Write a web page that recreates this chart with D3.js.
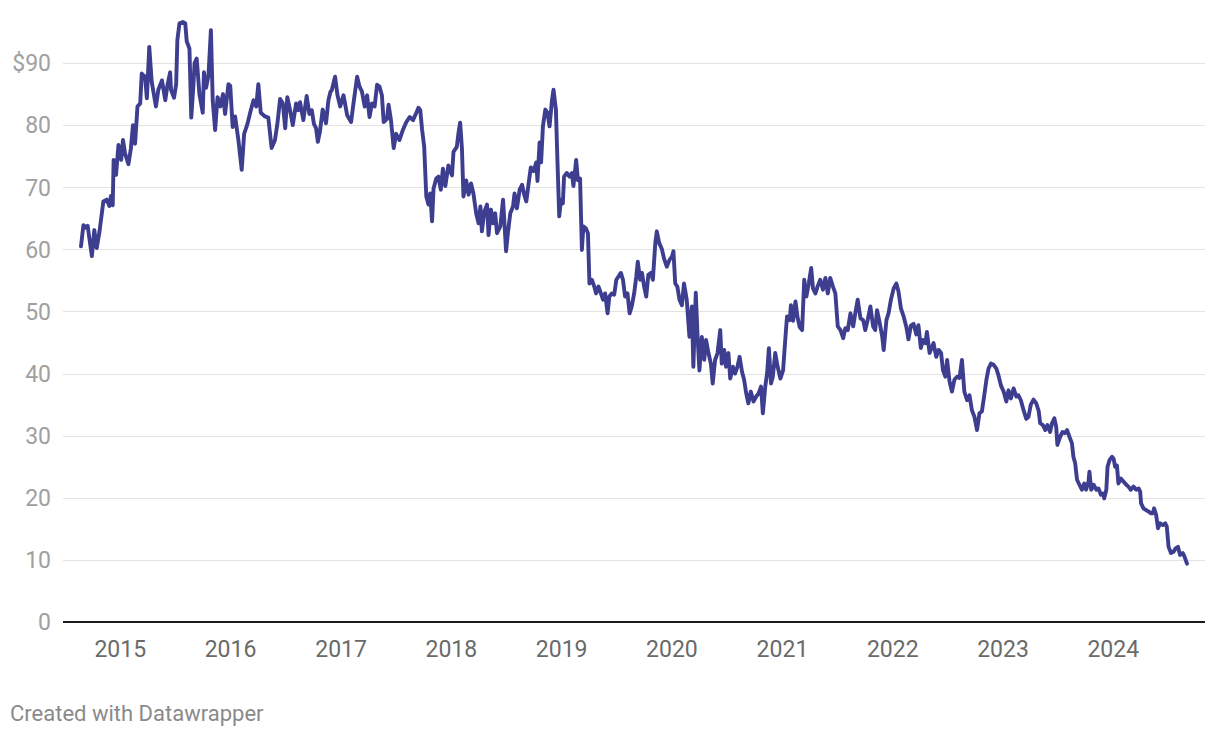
<!DOCTYPE html>
<html>
<head>
<meta charset="utf-8">
<script src="https://cdn.jsdelivr.net/npm/d3@7"></script>
<style>
  html, body { margin: 0; padding: 0; background: #fff; }
  svg { display: block; font-family: Roboto, "Noto Sans", sans-serif; }
</style>
</head>
<body>
<svg id="chart" width="1220" height="738"></svg>
<script>
// ---- DATA ----
const priceSeries = [
["2014-08-24",60.5],["2014-09-01",63.9],["2014-09-08",63.5],["2014-09-15",63.8],["2014-09-29",58.9],["2014-10-07",63.1],["2014-10-15",60.2],["2014-10-24",62.8],["2014-11-06",67.7],["2014-11-17",68.0],["2014-11-26",67.0],["2014-12-01",68.6],["2014-12-07",67.1],["2014-12-10",74.4],["2014-12-18",72.0],["2014-12-26",76.8],
["2015-01-04",74.4],["2015-01-10",77.6],["2015-01-17",75.4],["2015-01-28",73.7],["2015-02-05",76.2],["2015-02-12",80.0],["2015-02-19",77.0],["2015-02-27",83.0],["2015-03-08",83.5],["2015-03-13",88.3],["2015-03-24",87.8],["2015-03-30",84.3],["2015-04-07",92.6],["2015-04-15",87.0],["2015-04-29",83.0],["2015-05-07",85.7],["2015-05-19",87.2],["2015-05-30",84.0],["2015-06-06",86.4],["2015-06-15",88.5],["2015-06-18",85.7],["2015-06-28",84.4],["2015-07-05",86.6],["2015-07-09",93.7],["2015-07-16",96.4],["2015-07-27",96.6],["2015-08-04",96.4],["2015-08-09",93.5],["2015-08-18",92.3],["2015-08-24",81.2],["2015-08-31",86.3],["2015-09-04",90.0],["2015-09-11",90.7],["2015-09-20",85.0],["2015-10-01",82.0],["2015-10-05",88.5],["2015-10-12",86.0],["2015-10-20",88.0],["2015-10-28",95.3],["2015-11-03",84.0],["2015-11-11",79.2],["2015-11-19",84.5],["2015-11-28",83.0],["2015-12-07",85.0],["2015-12-14",81.8],["2015-12-25",86.6],["2015-12-31",86.3],
["2016-01-08",79.7],["2016-01-16",81.4],["2016-01-27",77.6],["2016-02-07",72.8],["2016-02-15",78.6],["2016-02-26",80.2],["2016-03-08",82.4],["2016-03-17",84.0],["2016-03-26",83.0],["2016-04-02",86.6],["2016-04-10",82.0],["2016-04-24",81.4],["2016-05-05",81.2],["2016-05-16",76.3],["2016-05-27",77.6],["2016-06-04",80.2],["2016-06-13",84.2],["2016-06-22",83.5],["2016-06-30",79.5],["2016-07-07",84.5],["2016-07-16",82.4],["2016-07-25",80.0],["2016-08-05",83.5],["2016-08-12",82.4],["2016-08-18",83.7],["2016-08-29",80.8],["2016-09-09",84.7],["2016-09-18",81.8],["2016-09-26",82.4],["2016-10-03",80.2],["2016-10-10",79.5],["2016-10-16",77.3],["2016-10-23",79.0],["2016-11-01",82.5],["2016-11-12",80.3],["2016-11-20",84.0],["2016-11-27",85.4],["2016-12-01",85.6],["2016-12-12",87.8],["2016-12-20",84.8],["2016-12-29",83.0],
["2017-01-09",84.8],["2017-01-21",81.6],["2017-02-03",80.5],["2017-02-11",83.5],["2017-02-23",87.8],["2017-03-03",86.2],["2017-03-11",85.4],["2017-03-20",83.0],["2017-03-28",84.8],["2017-04-05",81.3],["2017-04-13",83.5],["2017-04-22",83.0],["2017-04-30",86.5],["2017-05-08",86.2],["2017-05-16",84.8],["2017-05-22",80.5],["2017-06-02",81.0],["2017-06-07",83.3],["2017-06-15",80.8],["2017-06-24",76.3],["2017-07-02",78.6],["2017-07-13",77.6],["2017-07-25",79.3],["2017-08-05",80.5],["2017-08-16",81.3],["2017-08-27",80.8],["2017-09-07",82.0],["2017-09-14",82.8],["2017-09-20",82.4],["2017-09-26",79.3],["2017-10-03",76.5],["2017-10-10",68.5],["2017-10-17",67.2],["2017-10-23",69.0],["2017-10-29",64.5],["2017-11-03",69.8],["2017-11-12",71.4],["2017-11-19",71.7],["2017-11-27",69.6],["2017-12-04",73.0],["2017-12-12",70.2],["2017-12-22",73.5],
["2018-01-03",71.9],["2018-01-08",75.7],["2018-01-19",76.5],["2018-01-25",78.9],["2018-01-30",80.4],["2018-02-05",76.2],["2018-02-10",68.5],["2018-02-19",71.1],["2018-02-27",68.8],["2018-03-07",70.6],["2018-03-15",69.0],["2018-03-24",65.8],["2018-04-01",64.2],["2018-04-07",66.9],["2018-04-12",62.9],["2018-04-20",66.1],["2018-04-29",67.2],["2018-05-04",62.3],["2018-05-12",66.4],["2018-05-19",64.2],["2018-05-26",65.8],["2018-06-01",62.6],["2018-06-12",63.7],["2018-06-21",68.0],["2018-06-25",64.8],["2018-07-01",59.7],["2018-07-07",62.6],["2018-07-15",65.8],["2018-07-24",66.9],["2018-07-29",69.0],["2018-08-06",66.6],["2018-08-15",69.6],["2018-08-23",70.4],["2018-08-30",68.8],["2018-09-06",67.7],["2018-09-14",70.7],["2018-09-21",73.2],["2018-09-30",72.6],["2018-10-09",74.0],["2018-10-13",71.0],["2018-10-20",77.2],["2018-10-25",74.0],["2018-10-31",79.8],["2018-11-08",82.5],["2018-11-15",82.0],["2018-11-22",79.8],["2018-11-30",84.0],["2018-12-05",85.7],["2018-12-13",82.5],["2018-12-18",74.4],["2018-12-24",65.3],["2018-12-30",68.0],
["2019-01-05",67.4],["2019-01-09",71.7],["2019-01-18",72.3],["2019-01-27",71.7],["2019-02-04",72.3],["2019-02-09",70.2],["2019-02-18",74.4],["2019-02-24",71.1],["2019-03-03",71.4],["2019-03-09",59.9],["2019-03-14",63.7],["2019-03-22",63.4],["2019-03-29",62.6],["2019-04-03",54.5],["2019-04-11",55.1],["2019-04-19",54.0],["2019-04-25",52.9],["2019-05-03",54.0],["2019-05-11",52.9],["2019-05-18",51.9],["2019-05-25",52.9],["2019-06-02",49.7],["2019-06-08",52.4],["2019-06-16",52.9],["2019-06-24",52.7],["2019-07-01",55.1],["2019-07-08",55.6],["2019-07-16",56.2],["2019-07-23",55.1],["2019-07-30",52.4],["2019-08-07",52.9],["2019-08-14",49.7],["2019-08-21",50.8],["2019-08-29",52.9],["2019-09-05",55.6],["2019-09-10",58.0],["2019-09-18",55.1],["2019-09-24",56.2],["2019-10-01",54.0],["2019-10-08",52.4],["2019-10-15",55.9],["2019-10-23",56.2],["2019-10-30",55.1],["2019-11-07",61.0],["2019-11-12",62.9],["2019-11-20",61.0],["2019-11-29",60.0],["2019-12-06",58.5],["2019-12-15",57.2],["2019-12-24",58.3],
["2020-01-01",58.8],["2020-01-06",59.7],["2020-01-12",54.5],["2020-01-19",54.0],["2020-01-26",51.9],["2020-02-03",51.0],["2020-02-10",54.5],["2020-02-19",51.9],["2020-02-28",45.9],["2020-03-07",50.8],["2020-03-12",41.1],["2020-03-20",53.0],["2020-03-26",45.9],["2020-04-01",40.5],["2020-04-09",45.9],["2020-04-17",42.2],["2020-04-23",45.4],["2020-05-01",43.3],["2020-05-09",41.6],["2020-05-15",38.4],["2020-05-23",42.2],["2020-05-31",43.3],["2020-06-09",47.0],["2020-06-14",41.6],["2020-06-22",43.8],["2020-06-28",41.1],["2020-07-06",43.3],["2020-07-12",39.2],["2020-07-21",41.1],["2020-07-28",40.0],["2020-08-05",41.1],["2020-08-12",42.7],["2020-08-20",40.3],["2020-08-27",39.0],["2020-09-03",36.8],["2020-09-10",35.2],["2020-09-18",37.1],["2020-09-27",35.5],["2020-10-06",36.3],["2020-10-14",36.8],["2020-10-22",37.9],["2020-10-28",33.6],["2020-11-05",37.9],["2020-11-11",40.0],["2020-11-17",44.1],["2020-11-24",38.4],["2020-11-30",39.5],["2020-12-08",43.3],["2020-12-16",41.1],["2020-12-25",39.2],
["2021-01-03",40.5],["2021-01-11",46.0],["2021-01-16",49.2],["2021-01-25",48.6],["2021-01-29",51.0],["2021-02-05",48.5],["2021-02-13",51.6],["2021-02-20",49.0],["2021-02-27",47.5],["2021-03-07",47.0],["2021-03-14",55.1],["2021-03-21",52.4],["2021-03-29",54.5],["2021-04-06",57.0],["2021-04-12",53.7],["2021-04-20",52.9],["2021-04-27",54.0],["2021-05-06",55.1],["2021-05-15",53.5],["2021-05-23",55.4],["2021-05-31",52.9],["2021-06-08",55.4],["2021-06-17",54.0],["2021-06-25",52.9],["2021-07-03",47.6],["2021-07-12",47.0],["2021-07-21",45.7],["2021-07-28",47.3],["2021-08-05",47.0],["2021-08-14",49.7],["2021-08-23",47.6],["2021-08-30",49.7],["2021-09-07",51.9],["2021-09-16",48.9],["2021-09-25",48.6],["2021-10-02",47.0],["2021-10-10",48.6],["2021-10-19",50.8],["2021-10-28",47.6],["2021-11-04",47.0],["2021-11-10",50.2],["2021-11-19",48.1],["2021-11-27",46.0],["2021-12-02",43.8],["2021-12-11",48.6],["2021-12-18",49.7],["2021-12-26",51.9],
["2022-01-04",53.7],["2022-01-13",54.5],["2022-01-20",53.2],["2022-01-28",50.5],["2022-02-06",49.2],["2022-02-15",47.5],["2022-02-22",45.5],["2022-03-02",47.7],["2022-03-11",48.0],["2022-03-20",46.3],["2022-03-27",47.8],["2022-04-04",44.1],["2022-04-11",45.4],["2022-04-19",44.9],["2022-04-24",46.7],["2022-05-03",43.3],["2022-05-11",44.3],["2022-05-16",44.9],["2022-05-25",42.7],["2022-06-02",43.8],["2022-06-10",43.3],["2022-06-16",40.6],["2022-06-24",39.5],["2022-06-30",42.2],["2022-07-08",38.7],["2022-07-16",37.1],["2022-07-24",39.0],["2022-08-02",39.5],["2022-08-10",39.3],["2022-08-18",42.2],["2022-08-26",37.1],["2022-09-04",35.7],["2022-09-12",36.5],["2022-09-20",34.1],["2022-09-28",33.1],["2022-10-07",30.9],["2022-10-15",33.6],["2022-10-23",33.9],["2022-10-31",36.5],["2022-11-07",39.0],["2022-11-14",40.8],["2022-11-22",41.6],["2022-12-01",41.4],["2022-12-10",40.8],["2022-12-17",39.7],["2022-12-25",38.1],
["2023-01-03",37.1],["2023-01-12",35.5],["2023-01-19",37.3],["2023-01-27",36.0],["2023-02-05",37.6],["2023-02-14",36.3],["2023-02-21",36.5],["2023-03-01",35.7],["2023-03-10",34.1],["2023-03-19",32.7],["2023-03-26",33.0],["2023-04-03",35.0],["2023-04-12",35.8],["2023-04-21",35.2],["2023-04-29",34.0],["2023-05-04",32.0],["2023-05-13",31.7],["2023-05-21",30.9],["2023-05-28",31.7],["2023-06-06",30.6],["2023-06-12",32.0],["2023-06-20",32.8],["2023-06-26",31.4],["2023-06-30",28.5],["2023-07-09",29.8],["2023-07-17",30.6],["2023-07-24",30.4],["2023-08-01",30.9],["2023-08-09",29.8],["2023-08-17",28.8],["2023-08-22",26.6],["2023-08-28",25.5],["2023-09-03",22.9],["2023-09-11",22.1],["2023-09-19",21.3],["2023-09-27",22.3],["2023-10-03",21.3],["2023-10-11",22.6],["2023-10-14",24.2],["2023-10-20",21.3],["2023-10-28",22.1],["2023-11-06",21.3],["2023-11-13",21.5],["2023-11-21",20.5],["2023-11-28",20.7],["2023-12-02",19.9],["2023-12-09",21.3],["2023-12-13",25.0],["2023-12-20",26.1],["2023-12-28",26.6],
["2024-01-02",26.3],["2024-01-07",25.0],["2024-01-13",25.2],["2024-01-18",22.3],["2024-01-26",23.1],["2024-02-04",22.6],["2024-02-13",22.1],["2024-02-20",21.8],["2024-02-28",21.3],["2024-03-08",21.8],["2024-03-17",21.3],["2024-03-25",21.5],["2024-03-30",21.0],["2024-04-02",19.1],["2024-04-10",18.3],["2024-04-19",18.0],["2024-04-26",17.8],["2024-05-05",17.5],["2024-05-11",17.5],["2024-05-15",18.3],["2024-05-22",17.2],["2024-05-28",15.1],["2024-06-04",15.9],["2024-06-13",15.6],["2024-06-21",15.9],["2024-06-26",15.4],["2024-07-02",12.1],["2024-07-10",11.1],["2024-07-18",11.3],["2024-07-26",11.9],["2024-08-02",12.1],["2024-08-09",10.8],["2024-08-18",11.1],["2024-08-23",10.6],["2024-09-01",9.4]
];
const yTicks = [0, 10, 20, 30, 40, 50, 60, 70, 80, 90];
const xTickYears = [2015, 2016, 2017, 2018, 2019, 2020, 2021, 2022, 2023, 2024];
const footerText = "Created with Datawrapper";

// ---- LAYOUT ----
const W = 1220, H = 738;
const plotLeft = 63, plotRight = 1205;
const lineLeft = 81, lineRight = 1187;
const yBottom = 622, yTop90 = 63;

const parse = d3.timeParse("%Y-%m-%d");
const data = priceSeries.map(([d, v]) => ({ date: parse(d), value: v }));

const x = d3.scaleTime()
  .domain(d3.extent(data, d => d.date))
  .range([lineLeft, lineRight]);
const y = d3.scaleLinear().domain([0, 90]).range([yBottom, yTop90]);

const svg = d3.select("#chart");

// gridlines
svg.append("g").selectAll("line").data(yTicks.filter(t => t !== 0)).join("line")
  .attr("x1", plotLeft).attr("x2", plotRight)
  .attr("y1", d => Math.round(y(d)) + 0.5).attr("y2", d => Math.round(y(d)) + 0.5)
  .attr("stroke", "#e3e3e3").attr("stroke-width", 1);

// y labels
svg.append("g").selectAll("text").data(yTicks).join("text")
  .attr("x", 51).attr("y", d => y(d))
  .attr("dy", "0.36em")
  .attr("text-anchor", "end")
  .attr("fill", "#a0a0a0")
  .attr("font-size", 23)
  .text(d => d === 90 ? "$" + d : d);

// line
const line = d3.line().x(d => x(d.date)).y(d => y(d.value)).curve(d3.curveLinear);
svg.append("path").datum(data)
  .attr("d", line)
  .attr("fill", "none")
  .attr("stroke", "#3e3e90")
  .attr("stroke-width", 3.9)
  .attr("stroke-linejoin", "round")
  .attr("stroke-linecap", "round");

// baseline
svg.append("line")
  .attr("x1", plotLeft).attr("x2", plotRight)
  .attr("y1", y(0)).attr("y2", y(0))
  .attr("stroke", "#1a1a1a").attr("stroke-width", 2);

// x labels
svg.append("g").selectAll("text").data(xTickYears).join("text")
  .attr("x", d => x(new Date(d, 0, 1)))
  .attr("y", 657)
  .attr("text-anchor", "middle")
  .attr("fill", "#6a6a6a")
  .attr("font-size", 23)
  .text(d => d);

// footer
svg.append("text")
  .attr("x", 10).attr("y", 721)
  .attr("fill", "#8a8a8a")
  .attr("font-size", 22)
  .text(footerText);
</script>
</body>
</html>
